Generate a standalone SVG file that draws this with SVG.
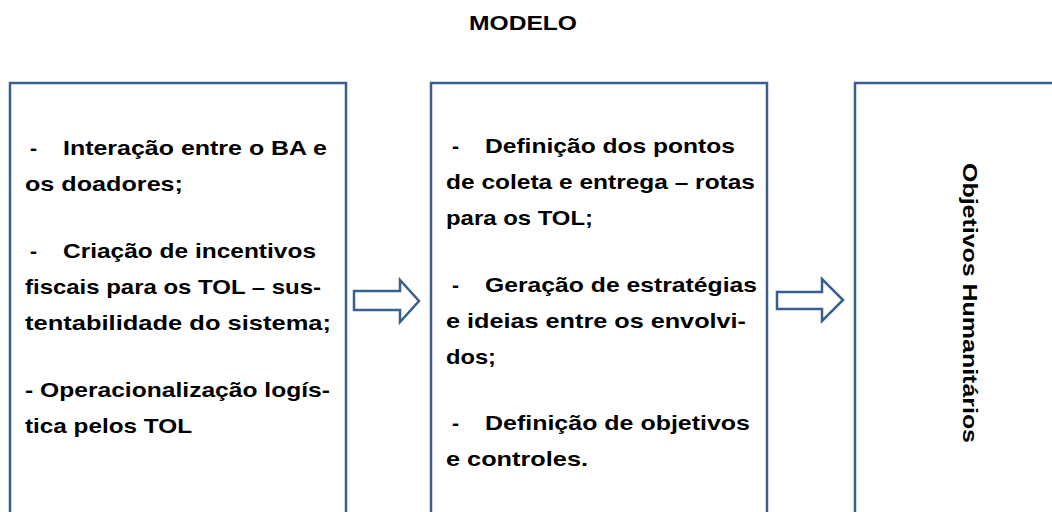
<svg xmlns="http://www.w3.org/2000/svg" width="1052" height="512" viewBox="0 0 1052 512">
<style>
.box{fill:#fff;stroke:#3a5f8e;stroke-width:2.5}
.arr{fill:#fff;stroke:#3a5f8e;stroke-width:2.5;stroke-linejoin:miter}
.t{font-family:"Liberation Sans",Arial,sans-serif;font-weight:bold;font-size:21px;fill:#000}
</style>
<rect width="1052" height="512" fill="#fff"/>
<g id="title"><text class="t" x="523" y="30" text-anchor="middle" textLength="108" lengthAdjust="spacingAndGlyphs">MODELO</text></g>
<g id="node1">
<rect class="box" x="10" y="83" width="336" height="460"/>
<text class="t" x="30" y="155">-</text>
<text class="t" x="63" y="155" textLength="264" lengthAdjust="spacingAndGlyphs">Interação entre o BA e</text>
<text class="t" x="25" y="191" textLength="158" lengthAdjust="spacingAndGlyphs">os doadores;</text>
<text class="t" x="30" y="258">-</text>
<text class="t" x="63" y="258" textLength="253" lengthAdjust="spacingAndGlyphs">Criação de incentivos</text>
<text class="t" x="25" y="294" textLength="296" lengthAdjust="spacingAndGlyphs">fiscais para os TOL – sus-</text>
<text class="t" x="25" y="330" textLength="306" lengthAdjust="spacingAndGlyphs">tentabilidade do sistema;</text>
<text class="t" x="25" y="397" textLength="305" lengthAdjust="spacingAndGlyphs">- Operacionalização logís-</text>
<text class="t" x="25" y="433" textLength="167" lengthAdjust="spacingAndGlyphs">tica pelos TOL</text>
</g>
<g id="node2">
<rect class="box" x="431" y="83" width="336" height="460"/>
<text class="t" x="452" y="153">-</text>
<text class="t" x="485" y="153" textLength="250" lengthAdjust="spacingAndGlyphs">Definição dos pontos</text>
<text class="t" x="446" y="189" textLength="309" lengthAdjust="spacingAndGlyphs">de coleta e entrega – rotas</text>
<text class="t" x="446" y="225" textLength="147" lengthAdjust="spacingAndGlyphs">para os TOL;</text>
<text class="t" x="452" y="292">-</text>
<text class="t" x="485" y="292" textLength="272" lengthAdjust="spacingAndGlyphs">Geração de estratégias</text>
<text class="t" x="446" y="328" textLength="300" lengthAdjust="spacingAndGlyphs">e ideias entre os envolvi-</text>
<text class="t" x="446" y="364" textLength="50" lengthAdjust="spacingAndGlyphs">dos;</text>
<text class="t" x="452" y="430">-</text>
<text class="t" x="485" y="430" textLength="265" lengthAdjust="spacingAndGlyphs">Definição de objetivos</text>
<text class="t" x="446" y="466" textLength="142" lengthAdjust="spacingAndGlyphs">e controles.</text>
</g>
<g id="node3">
<rect class="box" x="855" y="83" width="260" height="460"/>
<text class="t" transform="translate(963,163) rotate(90)" x="0" y="0" textLength="280" lengthAdjust="spacingAndGlyphs">Objetivos Humanitários</text>
</g>
<g id="connectors">
<polygon class="arr" points="354,291 400,291 400,280 419,301 400,322 400,310 354,310"/>
<polygon class="arr" points="777,292 822,292 822,279 843,300 822,321 822,309 777,309"/>
</g>
</svg>
